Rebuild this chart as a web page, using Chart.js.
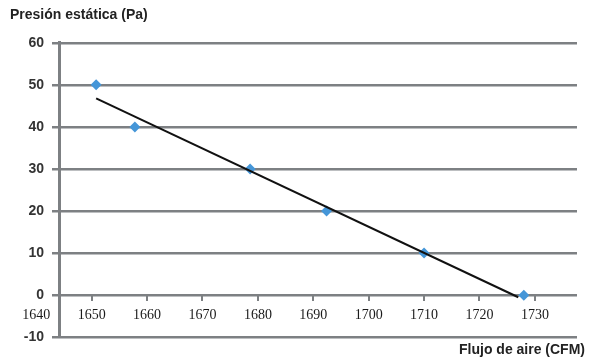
<!DOCTYPE html>
<html>
<head>
<meta charset="utf-8">
<script src="https://cdn.jsdelivr.net/npm/chart.js@4.4.0/dist/chart.umd.min.js"></script>
<style>
  body { margin: 0; background: #fff; }
  #wrap { width: 597px; height: 362px; }
</style>
</head>
<body>
<div id="wrap"><canvas id="flowchart"></canvas></div>
<script>
// measured points (flow vs static pressure)
var flow = [1650.8, 1657.8, 1678.6, 1692.4, 1710.0, 1728.0];
var pressure = [50, 40, 30, 20, 10, 0];

// linear trend line ends
var trendFlow = [1650.8, 1727.0];
var trendPressure = [46.8, -0.5];

var xTickValues = [1640, 1650, 1660, 1670, 1680, 1690, 1700, 1710, 1720, 1730];
var yTickValues = [-10, 0, 10, 20, 30, 40, 50, 60];

var gridGrey = '#7d8083';
var pointBlue = '#4596d8';

var points = [];
for (var i in flow) {
  points.push({ x: flow[i], y: pressure[i] });
}
var trend = [];
for (var j in trendFlow) {
  trend.push({ x: trendFlow[j], y: trendPressure[j] });
}

var ctx = document.getElementById('flowchart');

var chart = new Chart(ctx, {
  type: 'scatter',
  data: {
    datasets: [
      {
        label: 'Tendencia',
        data: trend,
        showLine: true,
        borderColor: '#111',
        borderWidth: 2,
        pointRadius: 0,
        order: 0
      },
      {
        label: 'Datos',
        data: points,
        pointStyle: 'rectRot',
        pointRadius: 5.5,
        backgroundColor: pointBlue,
        borderColor: pointBlue,
        borderWidth: 0,
        order: 1
      }
    ]
  },
  options: {
    responsive: true,
    maintainAspectRatio: false,
    animation: false,
    layout: { padding: { left: 10, right: 12, top: 0, bottom: 0 } },
    plugins: {
      legend: { display: false },
      tooltip: { enabled: false },
      title: {
        display: true,
        text: 'Presión estática (Pa)',
        align: 'start',
        color: '#222',
        font: { family: 'Liberation Sans', size: 14, weight: 'bold' },
        padding: { top: 7, bottom: 19 }
      },
      subtitle: {
        display: true,
        text: 'Flujo de aire (CFM)',
        position: 'bottom',
        align: 'end',
        color: '#222',
        font: { family: 'Liberation Sans', size: 14, weight: 'bold' },
        padding: { top: 5, bottom: 3 }
      }
    },
    scales: {
      x: {
        type: 'linear',
        position: { y: 0 },
        min: 1644.1,
        max: 1737.6,
        afterBuildTicks: function (scale) {
          scale.ticks = xTickValues.map(function (v) { return { value: v }; });
        },
        afterFit: function (scale) { scale.height = 0; },
        grid: {
          drawOnChartArea: false,
          drawTicks: true,
          tickLength: 6,
          lineWidth: 2,
          tickColor: function (c) {
            return c.tick && c.tick.value < 1644 ? 'rgba(0,0,0,0)' : gridGrey;
          }
        },
        border: { display: false },
        ticks: {
          autoSkip: false,
          maxRotation: 0,
          padding: 6,
          color: '#1a1a1a',
          font: { family: 'Liberation Serif', size: 14 },
          callback: function (value) { return String(value); }
        }
      },
      y: {
        min: -10,
        max: 60,
        afterBuildTicks: function (scale) {
          scale.ticks = yTickValues.map(function (v) { return { value: v }; });
        },
        afterFit: function (scale) { scale.width = 49; },
        grid: {
          color: gridGrey,
          lineWidth: 2.5,
          tickLength: 7
        },
        border: { color: gridGrey, width: 3 },
        ticks: {
          padding: 8,
          color: '#333',
          font: { family: 'Liberation Sans', size: 14, weight: 'bold' }
        }
      },
      yRight: {
        position: 'right',
        min: -10,
        max: 60,
        afterFit: function (scale) { scale.width = 8; },
        grid: { display: false },
        border: { display: false },
        ticks: { display: false }
      }
    }
  }
});
</script>
</body>
</html>
